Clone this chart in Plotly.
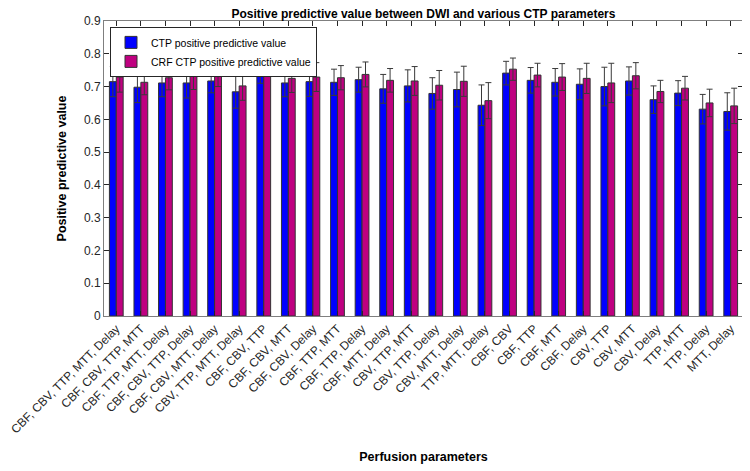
import plotly.graph_objects as go

# Perfusion parameter combinations (x categories)
categories = [
    'CBF, CBV, TTP, MTT, Delay',
    'CBF, CBV, TTP, MTT', 'CBF, TTP, MTT, Delay', 'CBF, CBV, TTP, Delay',
    'CBF, CBV, MTT, Delay', 'CBV, TTP, MTT, Delay',
    'CBF, CBV, TTP', 'CBF, CBV, MTT', 'CBF, CBV, Delay', 'CBF, TTP, MTT',
    'CBF, TTP, Delay', 'CBF, MTT, Delay', 'CBV, TTP, MTT', 'CBV, TTP, Delay',
    'CBV, MTT, Delay', 'TTP, MTT, Delay',
    'CBF, CBV', 'CBF, TTP', 'CBF, MTT', 'CBF, Delay', 'CBV, TTP',
    'CBV, MTT', 'CBV, Delay', 'TTP, MTT', 'TTP, Delay', 'MTT, Delay',
]

ctp_ppv = [0.715, 0.698, 0.711, 0.711, 0.717, 0.684, 0.741, 0.711, 0.715, 0.713,
           0.721, 0.693, 0.702, 0.679, 0.691, 0.643, 0.741, 0.719, 0.713, 0.707,
           0.700, 0.717, 0.660, 0.680, 0.631, 0.624]
ctp_err = [0.046, 0.047, 0.042, 0.046, 0.036, 0.050, 0.031, 0.042, 0.045, 0.040,
           0.038, 0.044, 0.049, 0.048, 0.053, 0.062, 0.036, 0.039, 0.042, 0.047,
           0.059, 0.043, 0.042, 0.038, 0.045, 0.057]

crf_ppv = [0.729, 0.713, 0.727, 0.731, 0.735, 0.702, 0.759, 0.725, 0.729, 0.727,
           0.737, 0.719, 0.717, 0.704, 0.716, 0.657, 0.753, 0.735, 0.729, 0.725,
           0.711, 0.733, 0.685, 0.695, 0.650, 0.641]
crf_err = [0.046, 0.038, 0.037, 0.040, 0.035, 0.044, 0.028, 0.043, 0.044, 0.037,
           0.038, 0.036, 0.044, 0.045, 0.046, 0.055, 0.034, 0.036, 0.041, 0.046,
           0.060, 0.040, 0.034, 0.036, 0.042, 0.054]

FONT = 'Liberation Sans, Arial, sans-serif'
AXIS_COLOR = '#262626'

err_style = dict(type='data', visible=True, color='#3a3a3a', thickness=1, width=3)

fig = go.Figure()
fig.add_trace(go.Bar(
    x=categories, y=ctp_ppv, name='CTP positive predictive value',
    marker=dict(color='#0000FF', line=dict(color='#333333', width=1)),
    error_y=dict(array=ctp_err, **err_style),
))
fig.add_trace(go.Bar(
    x=categories, y=crf_ppv, name='CRF CTP positive predictive value',
    marker=dict(color='#BF0080', line=dict(color='#333333', width=1)),
    error_y=dict(array=crf_err, **err_style),
))

# page body has an 8px margin, so the figure is sized to fit inside the window
fig.update_layout(
    width=742, height=463,
    margin=dict(l=96, r=7, t=13, b=155, autoexpand=False),
    paper_bgcolor='white', plot_bgcolor='white',
    barmode='group', bargap=0.44, bargroupgap=0,
    font=dict(family=FONT, size=11, color=AXIS_COLOR),
    title=dict(text='<b>Positive predictive value between DWI and various CTP parameters</b>',
               xref='paper', x=0.5, xanchor='center', yref='container', y=0.997, yanchor='top',
               font=dict(size=12, color='black')),
    legend=dict(x=0.0094, y=0.98, xanchor='left', yanchor='top',
                bgcolor='white', bordercolor=AXIS_COLOR, borderwidth=1,
                font=dict(size=10.5, color='black'), tracegroupgap=0,
                itemwidth=30),
    showlegend=True,
)

fig.update_xaxes(
    tickangle=-45, ticks='inside', ticklen=5, tickcolor=AXIS_COLOR,
    showline=True, linecolor='#7f7f7f', linewidth=1, mirror='ticks',
    showgrid=False, tickfont=dict(size=12, color=AXIS_COLOR), automargin=False,
    title=dict(text='<b>Perfusion parameters</b>', font=dict(size=12.5, color='black'), standoff=16),
    range=[-0.5, len(categories) - 0.5],
)
fig.update_yaxes(
    range=[0, 0.9], dtick=0.1, tickformat='.1~f',
    ticks='inside', ticklen=5, tickcolor=AXIS_COLOR,
    showline=True, linecolor='#7f7f7f', linewidth=1, mirror='ticks',
    showgrid=False, zeroline=False, tickfont=dict(size=12, color=AXIS_COLOR), automargin=False,
    title=dict(text='<b>Positive predictive value</b>', font=dict(size=12.5, color='black'), standoff=14),
)

fig.write_html('out.html')
